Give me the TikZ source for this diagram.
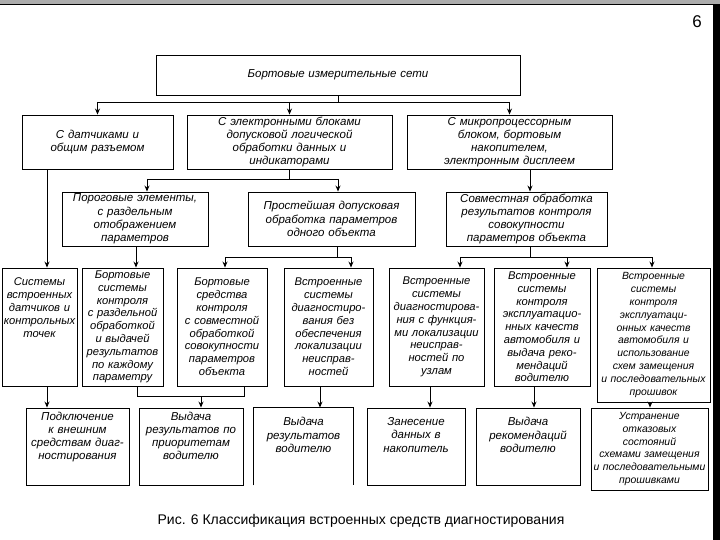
\documentclass[tikz,border=0pt]{standalone}
\usepackage{fontspec}
\setmainfont{Liberation Sans}
\usetikzlibrary{arrows.meta}
\begin{document}
\begin{tikzpicture}[x=1pt,y=-1pt,
  bx/.style={draw, line width=0.9pt, inner sep=1pt, align=center,
    font=\fontsize{11.5}{13.2}\selectfont\itshape},
  gbx/.style={bx, font=\fontsize{11.2}{12.8}\selectfont\itshape},
  sbx/.style={bx, font=\fontsize{10.4}{12.8}\selectfont\itshape},
  ln/.style={line width=0.9pt},
  arr/.style={line width=0.9pt, -{Stealth[length=6pt,width=5pt]}}]
\useasboundingbox (0,0) rectangle (720,540);
\fill[white] (0,0) rectangle (720,540);
\fill[gray!65] (0,0) rectangle (720,4.5);
\fill[black] (0,4.5) rectangle (720,5.5);
\fill[black] (713,4.5) rectangle (720,540);
\node[font=\fontsize{17}{20}\selectfont] (pg) at (697,22) {6};

% row 1
\node[bx, minimum width=364pt, minimum height=40pt, text width=362pt] (T) at (338,75) {Бортовые измерительные сети};
% row 2
\node[bx, minimum width=151pt, minimum height=54pt, text width=149pt] (A) at (97.5,142) {С датчиками и\\общим разъемом};
\node[bx, minimum width=205pt, minimum height=54pt, text width=203pt] (B) at (289.5,142) {С электронными блоками\\допусковой логической\\обработки данных и\\индикаторами};
\node[bx, minimum width=205pt, minimum height=54pt, text width=203pt] (C) at (509.5,142) {С микропроцессорным\\блоком, бортовым\\накопителем,\\электронным дисплеем};
% row 3
\node[bx, minimum width=146pt, minimum height=54pt, text width=144pt] (D) at (135,219) {Пороговые элементы,\\с раздельным\\отображением\\параметров};
\node[bx, minimum width=167pt, minimum height=54pt, text width=165pt] (E) at (331.5,219) {Простейшая допусковая\\обработка параметров\\одного объекта};
\node[bx, minimum width=161pt, minimum height=54pt, text width=159pt] (F) at (526.5,219) {Совместная обработка\\результатов контроля\\совокупности\\параметров объекта};
% row 4
\node[gbx, minimum width=75pt, minimum height=118pt, text width=73pt] (G1) at (39.5,327) {Системы\\встроенных\\датчиков и\\контрольных\\точек\\[26pt]\mbox{}};
\node[gbx, minimum width=81pt, minimum height=118pt, text width=79pt] (G2) at (122.5,327) {Бортовые\\системы\\контроля\\с раздельной\\обработкой\\и выдачей\\результатов\\по каждому\\параметру};
\node[gbx, minimum width=90pt, minimum height=118pt, text width=88pt] (G3) at (222,327) {Бортовые\\средства\\контроля\\с совместной\\обработкой\\совокупности\\параметров\\объекта};
\node[gbx, minimum width=89pt, minimum height=118pt, text width=87pt] (G4) at (328.5,327) {Встроенные\\системы\\диагностиро-\\вания без\\обеспечения\\локализации\\неисправ-\\ностей};
\node[gbx, minimum width=95pt, minimum height=118pt, text width=93pt] (G5) at (436.5,327) {Встроенные\\системы\\диагностирова-\\ния с функция-\\ми локализации\\неисправ-\\ностей по\\узлам};
\node[gbx, minimum width=96pt, minimum height=118pt, text width=94pt] (G6) at (542,327) {Встроенные\\системы\\контроля\\эксплуатацио-\\нных качеств\\автомобиля и\\выдача реко-\\мендаций\\водителю};
\node[sbx, minimum width=113pt, minimum height=134pt, text width=111pt] (G7) at (653.5,335) {Встроенные\\системы\\контроля\\эксплуатаци-\\онных качеств\\автомобиля и\\использование\\схем замещения\\и последовательных\\прошивок};
% row 5
\node[bx, minimum width=103pt, minimum height=77pt, text width=101pt] (H1) at (77.5,446.5) {Подключение\\к внешним\\средствам диаг-\\ностирования\\[8pt]\mbox{}};
\node[bx, minimum width=104pt, minimum height=77pt, text width=102pt] (H2) at (191,446.5) {Выдача\\результатов по\\приоритетам\\водителю\\[8pt]\mbox{}};
\node[bx, draw=none, minimum width=99pt, minimum height=77pt, text width=97pt] (H3) at (303.5,446.5) {Выдача\\результатов\\водителю\\[10pt]\mbox{}};
\draw[ln] (H3.south west) -- (H3.north west) -- (H3.north east) -- (H3.south east);
\node[bx, minimum width=98pt, minimum height=77pt, text width=96pt] (H4) at (416,446.5) {Занесение\\данных в\\накопитель\\[10pt]\mbox{}};
\node[bx, minimum width=104pt, minimum height=77pt, text width=102pt] (H5) at (528,446.5) {Выдача\\рекомендаций\\водителю\\[10pt]\mbox{}};
\node[sbx, minimum width=117pt, minimum height=82pt, text width=115pt] (H6) at (649.5,449) {Устранение\\отказовых\\состояний\\схемами замещения\\и последовательными\\прошивками};

% caption
\node[font=\fontsize{14}{16}\selectfont] (cap) at (361,521) {Рис. 6 Классификация встроенных средств диагностирования};

% connectors
\coordinate (j1) at (338,102);
\draw[ln] (T.south) -- (j1);
\draw[ln] (j1 -| A.north) -- (j1 -| C.north);
\draw[arr] (j1 -| A.north) -- (A.north);
\draw[arr] (j1 -| B.north) -- (B.north);
\draw[arr] (j1 -| C.north) -- (C.north);

\coordinate (xa) at (47,0);
\draw[arr] (A.south -| xa) -- (G1.north -| xa);

\coordinate (j2) at (289,179);
\coordinate (xd) at (147,0);
\coordinate (xe) at (338,0);
\draw[ln] (B.south -| j2) -- (j2);
\draw[ln] (j2 -| xd) -- (j2 -| xe);
\draw[arr] (j2 -| xd) -- (D.north -| xd);
\draw[arr] (j2 -| xe) -- (E.north -| xe);

\coordinate (xc) at (530,0);
\draw[arr] (C.south -| xc) -- (F.north -| xc);

\coordinate (xdg) at (136,0);
\draw[arr] (D.south -| xdg) -- (G2.north -| xdg);

\coordinate (j3) at (337,257);
\coordinate (xg3) at (225,0);
\coordinate (xg4) at (351,0);
\draw[ln] (E.south -| j3) -- (j3);
\draw[ln] (j3 -| xg3) -- (j3 -| xg4);
\draw[arr] (j3 -| xg3) -- (G3.north -| xg3);
\draw[arr] (j3 -| xg4) -- (G4.north -| xg4);

\coordinate (j4) at (530,257);
\coordinate (xg5) at (460,0);
\coordinate (xg6) at (567,0);
\coordinate (xg7) at (652,0);
\draw[ln] (F.south -| j4) -- (j4);
\draw[ln] (j4 -| xg5) -- (j4 -| xg7);
\draw[arr] (j4 -| xg5) -- (G5.north -| xg5);
\draw[arr] (j4 -| xg6) -- (G6.north -| xg6);
\draw[arr] (j4 -| xg7) -- (G7.north -| xg7);

\draw[arr] (G1.south -| xa) -- (H1.north -| xa);

\coordinate (j5) at (201,396);
\coordinate (xq2) at (137,0);
\coordinate (xq3) at (244,0);
\draw[ln] (G2.south -| xq2) -- (j5 -| xq2) -- (j5 -| xq3) -- (G3.south -| xq3);
\draw[arr] (j5) -- (H2.north -| j5);

\coordinate (x3) at (320,0);
\coordinate (x4) at (430,0);
\coordinate (x5) at (534,0);
\coordinate (x6) at (650,0);
\draw[arr] (G4.south -| x3) -- (H3.north -| x3);
\draw[arr] (G5.south -| x4) -- (H4.north -| x4);
\draw[arr] (G6.south -| x5) -- (H5.north -| x5);
\draw[arr] (G7.south -| x6) -- (H6.north -| x6);
\end{tikzpicture}
\end{document}
